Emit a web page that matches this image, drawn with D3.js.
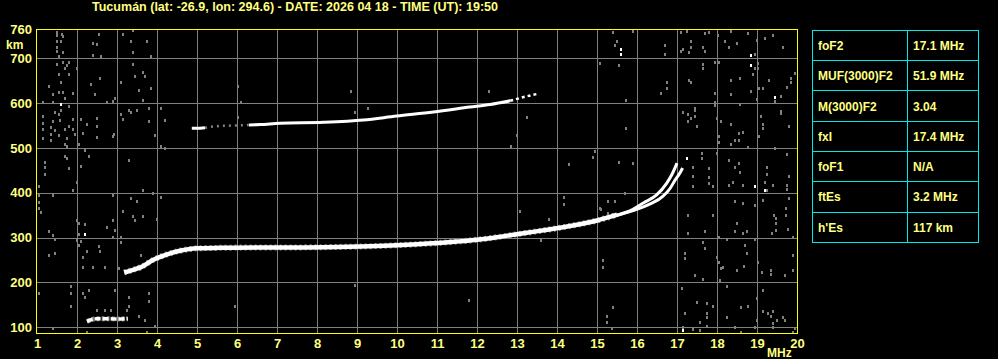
<!DOCTYPE html>
<html>
<head>
<meta charset="utf-8">
<script src="https://cdn.jsdelivr.net/npm/d3@7"></script>
<style>
body { margin: 0; background: #000; }
svg { display: block; }
text { font-family: "Liberation Sans", Arial, sans-serif; font-weight: bold; fill: #ffff80; }
</style>
</head>
<body>
<svg width="998" height="359"></svg>
<script>
var title = "Tucumán (lat: -26.9, lon: 294.6) - DATE: 2026 04 18 - TIME (UT): 19:50";

var freqTicks = [1, 2, 3, 4, 5, 6, 7, 8, 9, 10, 11, 12, 13, 14, 15, 16, 17, 18, 19, 20];
var heightTicks = [100, 200, 300, 400, 500, 600, 700, 760];
var gridHeights = [100, 200, 300, 400, 500, 600, 700];

// F2 trace (MHz, km)
var traceF = [[3.18, 222], [3.4, 228], [3.6, 234], [3.9, 250], [4.2, 261], [4.6, 271], [5.0, 276], [5.6, 277],
    [6.5, 278], [7.5, 278], [8.5, 279], [9.5, 281], [10.5, 285], [11.5, 291], [12.0, 295], [12.6, 302],
    [13.2, 310], [13.8, 318], [14.4, 327], [15.0, 338], [15.5, 351]];
var traceO = [[15.4, 348], [15.9, 363], [16.16, 377], [16.49, 395], [16.74, 421], [16.87, 440], [17.0, 466]];
var traceX = [[15.4, 347], [15.9, 360], [16.33, 375], [16.66, 393], [16.83, 410], [16.93, 425], [17.08, 445], [17.14, 455]];
// Es trace
var traceEs = [[2.25, 113], [2.5, 119], [2.8, 119], [3.0, 118], [3.27, 119]];
// second hop
var hop2A = [[4.87, 544], [5.08, 544], [5.2, 545]];
var hop2Dots = [[5.2, 545], [5.58, 549], [6.0, 550], [6.3, 551]];
var hop2B = [[6.3, 551], [6.58, 552], [7.08, 555], [8.16, 557], [9.16, 562], [9.99, 571], [10.91, 580],
    [11.82, 591], [12.33, 597], [12.83, 605]];
var hop2Tail = [[12.83, 605], [13.24, 615], [13.49, 620]];

var noiseGray = [
    [1.5, 759], [1.5, 752], [1.63, 754], [1.64, 750], [1.6, 739], [1.5, 739], [1.5, 726], [1.5, 717], [1.64, 715], [1.56, 704],
    [2.54, 754], [2.39, 735], [2.5, 732], [2.39, 707], [2.6, 704], [3.14, 754], [3.39, 762], [3.35, 739], [3.39, 713], [3.75, 739], [3.85, 704],
    [1.5, 687], [1.64, 691], [1.74, 684], [1.79, 692], [1.71, 678], [1.99, 678], [1.54, 665], [1.79, 665], [1.6, 648], [1.29, 638],
    [1.39, 620], [1.54, 625], [1.64, 625], [1.89, 623], [1.7, 611],
    [2.58, 657], [2.35, 643], [2.44, 620], [3.39, 687], [3.45, 661], [3.64, 670], [3.7, 661], [3.1, 648], [3.54, 629], [3.85, 634],
    [2.95, 611], [2.89, 605], [2.74, 603], [3.64, 607],
    [1.16, 603], [1.39, 603], [1.79, 594], [1.45, 581], [1.6, 585], [1.54, 576], [1.14, 571], [1.14, 555], [1.39, 561], [1.58, 562],
    [1.89, 564], [1.14, 542], [1.35, 547], [1.7, 542], [1.79, 549], [1.89, 542], [1.45, 540], [1.54, 529], [1.35, 531], [1.74, 523],
    [1.95, 531], [1.14, 523], [1.35, 518], [1.7, 509], [1.74, 504], [2.04, 509],
    [2.1, 564], [2.14, 534], [2.24, 553], [2.49, 566], [2.49, 549], [2.49, 525], [2.2, 495], [2.29, 482], [1.7, 482], [1.74, 478],
    [1.2, 469], [1.2, 458], [1.2, 442], [1.79, 456], [2.1, 460],
    [2.93, 531], [2.89, 527], [3.1, 576], [3.14, 564], [3.31, 585], [3.35, 581], [3.49, 585], [3.79, 589], [4.1, 589], [3.79, 559],
    [3.95, 529], [4.2, 562], [4.1, 504], [4.2, 500], [3.31, 473],
    [1.04, 414], [1.04, 395], [1.04, 380], [1.04, 365], [1.09, 358], [1.39, 395], [1.89, 405], [1.99, 423], [2.89, 395], [3.35, 388],
    [3.49, 382], [3.64, 405], [3.89, 399], [4.1, 390],
    [3.14, 360], [3.39, 348], [3.45, 338], [3.64, 347], [3.99, 342], [2.89, 338], [1.99, 338], [2.04, 332], [2.2, 330], [2.74, 324],
    [2.95, 317], [1.29, 315], [1.39, 306], [2.04, 308], [2.89, 302], [3.1, 301],
    [1.44, 296], [1.99, 295], [2.1, 293], [2.04, 284], [3.1, 289], [2.54, 280], [2.24, 271], [2.58, 269], [1.29, 261], [1.44, 266],
    [2.14, 256], [2.14, 235], [2.39, 234], [2.69, 235], [3.04, 232], [3.6, 261],
    [1.85, 191], [1.85, 177], [1.04, 177], [2.14, 177], [2.29, 182], [2.2, 168], [2.95, 182], [3.29, 168], [3.79, 177], [3.79, 159],
    [1.85, 147], [2.49, 139], [2.69, 139], [2.84, 139], [3.24, 139], [3.29, 147], [3.54, 125], [3.7, 116], [3.95, 103], [1.39, 98],
    [2.24, 90], [3.74, 90], [5.94, 147],
    [6.03, 637], [6.1, 603], [8.84, 626], [9.28, 590], [8.95, 580], [12.29, 626], [13.24, 568], [12.99, 529], [6.03, 568], [8.94, 194],
    [12.84, 505], [14.95, 492], [14.89, 479], [14.3, 464], [14.17, 391], [14.17, 374], [15.1, 364], [13.07, 360], [13.8, 341],
    [15.28, 354], [13.61, 295], [11.8, 161],
    [15.41, 759], [15.45, 730], [15.49, 739], [15.89, 761], [15.55, 684], [15.08, 689], [15.72, 607], [15.72, 545], [15.55, 469], [15.89, 467],
    [16.7, 730], [16.7, 709], [16.74, 646], [16.74, 634], [16.59, 622],
    [17.1, 759], [17.24, 761], [17.14, 721], [17.1, 716], [17.31, 713], [17.34, 739], [17.34, 726], [17.66, 726], [17.7, 717], [17.7, 757],
    [17.8, 759], [18.03, 752], [18.2, 739], [18.31, 726], [18.49, 735], [18.34, 761], [18.78, 757], [18.99, 741], [19.2, 745], [19.39, 752],
    [19.64, 726], [18.95, 709],
    [19.03, 689], [19.03, 678], [18.95, 679], [18.89, 664], [17.95, 692], [18.05, 692], [17.64, 687], [17.64, 679], [17.31, 652], [17.34, 648],
    [17.95, 623], [17.95, 603], [17.95, 596], [18.34, 652], [18.34, 620], [18.58, 657], [18.85, 626], [19.06, 634], [19.16, 634], [19.31, 652],
    [19.45, 605], [19.6, 616], [19.74, 635], [19.85, 655], [19.85, 647], [19.95, 667], [18.99, 609], [18.58, 598],
    [17.45, 590], [17.45, 585], [17.14, 581], [17.28, 576], [17.46, 571], [17.34, 566], [17.28, 559], [17.49, 549], [17.99, 566], [18.09, 559],
    [18.34, 553], [18.55, 533], [18.64, 536], [18.45, 518], [18.55, 518], [18.05, 527], [18.05, 514], [18.34, 509], [19.1, 571], [19.16, 553],
    [19.16, 544], [19.06, 527], [19.6, 582], [19.6, 577], [19.81, 549], [19.45, 499], [19.74, 487], [18.78, 503],
    [17.63, 489], [17.63, 478], [18.3, 473], [18.45, 457], [18.55, 466], [18.58, 447], [17.99, 488], [17.8, 455], [17.8, 436], [17.39, 457],
    [17.39, 438], [19.24, 457], [19.24, 442], [19.8, 438],
    [17.39, 414], [17.8, 421], [17.91, 414], [18.3, 417], [18.39, 423], [18.64, 417], [19.2, 423], [19.24, 405], [19.39, 417], [19.74, 417],
    [19.74, 408], [15.7, 399], [15.28, 382], [15.45, 382], [15.08, 365],
    [17.28, 350], [17.28, 311], [17.89, 350], [17.7, 315], [18.45, 382], [18.64, 378], [18.95, 373], [18.49, 333], [18.45, 315], [18.64, 311],
    [18.74, 315], [19.15, 384], [19.42, 350], [19.48, 343], [19.48, 333], [19.48, 317], [19.73, 365], [19.81, 388], [19.73, 350], [19.37, 311],
    [19.78, 319], [19.91, 302],
    [18.05, 302], [18.24, 296], [17.64, 289], [17.7, 276], [18.7, 284], [18.95, 296], [17.2, 265], [17.2, 254], [17.99, 256], [18.05, 246],
    [18.09, 232], [18.14, 234], [18.49, 228], [18.74, 265], [18.68, 237], [19.03, 246], [19.12, 222], [19.34, 228], [19.34, 219], [19.7, 217],
    [19.89, 228], [19.89, 261],
    [17.45, 217], [17.64, 207], [18.08, 206], [18.24, 191], [17.13, 187], [15.14, 249], [15.14, 234], [15.39, 145], [15.24, 125], [15.24, 112],
    [15.38, 98],
    [17.49, 157], [17.74, 154], [17.91, 148], [17.74, 131], [17.74, 122], [17.2, 131], [17.58, 112], [18.24, 122], [18.59, 146], [18.78, 147],
    [19.14, 182], [18.99, 165], [19.14, 137], [19.28, 131], [19.39, 135], [19.34, 124], [19.49, 116], [19.64, 122], [19.7, 116], [19.39, 109],
    [18.99, 116], [17.74, 103], [17.39, 96], [17.14, 101], [17.58, 94], [18.45, 101], [18.95, 101], [19.41, 101], [19.95, 98], [19.91, 90],
    [18.6, 90]
];
var noiseWhite = [[1.6, 598], [2.2, 307], [15.6, 721], [15.6, 710], [18.85, 708], [18.85, 684], [19.45, 614],
    [17.24, 477], [18.95, 414], [19.2, 406], [17.14, 94]];

var paramNames = ["foF2", "MUF(3000)F2", "M(3000)F2", "fxI", "foF1", "ftEs", "h'Es"];
var paramValues = ["17.1 MHz", "51.9 MHz", "3.04", "17.4 MHz", "N/A", "3.2 MHz", "117 km"];

var svg = d3.select("svg");

var x = d3.scaleLinear().domain([1, 20]).range([37, 797]);
var y = d3.scaleLinear().domain([87, 763]).range([333, 30]);

// title
svg.append("text")
    .attr("x", 92).attr("y", 10.5)
    .attr("font-size", 12)
    .attr("textLength", 406).attr("lengthAdjust", "spacingAndGlyphs")
    .text(title);

// grid
var grid = svg.append("g").attr("shape-rendering", "crispEdges")
    .attr("stroke", "#808080").attr("stroke-width", 1);

grid.selectAll(".vgrid")
    .data(freqTicks.slice(1, -1))
    .enter().append("line")
    .attr("class", "vgrid")
    .attr("x1", d => x(d) + 0.5).attr("x2", d => x(d) + 0.5)
    .attr("y1", y.range()[1]).attr("y2", y.range()[0]);

grid.selectAll(".hgrid")
    .data(gridHeights)
    .enter().append("line")
    .attr("class", "hgrid")
    .attr("x1", x(1)).attr("x2", x(20))
    .attr("y1", d => Math.round(y(d)) + 0.5).attr("y2", d => Math.round(y(d)) + 0.5);

// noise
svg.append("g").attr("shape-rendering", "crispEdges")
    .selectAll("rect")
    .data(noiseGray)
    .enter().append("rect")
    .attr("x", d => Math.round(x(d[0])) - 1)
    .attr("y", d => Math.round(y(d[1])) - 1)
    .attr("width", 2).attr("height", 3)
    .attr("fill", "#808080");

svg.append("g").attr("shape-rendering", "crispEdges")
    .selectAll("rect")
    .data(noiseWhite)
    .enter().append("rect")
    .attr("x", d => Math.round(x(d[0])) - 1)
    .attr("y", d => Math.round(y(d[1])) - 1)
    .attr("width", 2).attr("height", 3)
    .attr("fill", "#ffffff");

// traces
var line = d3.line()
    .x(d => x(d[0]))
    .y(d => y(d[1]))
    .curve(d3.curveMonotoneX);

function trace(data, width, color, dash) {
    svg.append("path")
        .datum(data)
        .attr("d", line)
        .attr("fill", "none")
        .attr("stroke", color)
        .attr("stroke-width", width)
        .attr("stroke-dasharray", dash || null);
}

trace(traceF, 6, "#808080", "2,3");
trace(traceF, 4.5, "#ffffff");
trace(traceO, 3, "#ffffff");
trace(traceX, 3, "#ffffff");
trace(traceEs, 5, "#808080", "3,2");
trace(traceEs, 3.5, "#ffffff", "6,2");
trace(hop2A, 3, "#ffffff");
trace(hop2Dots, 2.5, "#808080", "2,4");
trace(hop2B, 3, "#ffffff");
trace(hop2Tail, 2.5, "#ffffff", "3,3");

// frame
svg.append("rect")
    .attr("x", x(1) - 0.5).attr("y", y(763) - 0.5)
    .attr("width", x(20) - x(1) + 1).attr("height", y(87) - y(763) + 1)
    .attr("fill", "none")
    .attr("stroke", "#ffff00")
    .attr("stroke-width", 1)
    .attr("shape-rendering", "crispEdges");

// axes
var xAxis = svg.append("g")
    .attr("transform", "translate(0," + y(87) + ")")
    .call(d3.axisBottom(x).tickValues(freqTicks).tickFormat(d3.format("d")).tickSize(0).tickPadding(6));
xAxis.select(".domain").remove();
xAxis.selectAll("text").attr("font-size", 13).attr("font-family", null).attr("fill", null);

var yAxis = svg.append("g")
    .attr("transform", "translate(" + (x(1) - 1) + ",0)")
    .call(d3.axisLeft(y).tickValues(heightTicks).tickFormat(d3.format("d")).tickSize(0).tickPadding(4));
yAxis.select(".domain").remove();
yAxis.selectAll("text").attr("font-size", 13).attr("font-family", null).attr("fill", null);
yAxis.selectAll("text").filter(d => d === 760).attr("dy", "0.2em");

svg.append("text")
    .attr("x", 6).attr("y", 49)
    .attr("font-size", 12)
    .text("km");

svg.append("text")
    .attr("x", x(19) + 10).attr("y", 357)
    .attr("font-size", 12)
    .text("MHz");

// parameter table
var tx0 = 812, tx1 = 907, tx2 = 977.5, ty0 = 30.3, rowH = 30.3;
var table = svg.append("g").attr("shape-rendering", "crispEdges");

table.append("rect")
    .attr("x", tx0 + 0.5).attr("y", ty0)
    .attr("width", tx2 - tx0).attr("height", rowH * paramNames.length)
    .attr("fill", "none").attr("stroke", "#00e8e8");

table.append("line")
    .attr("x1", tx1 + 0.5).attr("x2", tx1 + 0.5)
    .attr("y1", ty0).attr("y2", ty0 + rowH * paramNames.length)
    .attr("stroke", "#00e8e8");

table.selectAll(".rowline")
    .data(paramNames.slice(1))
    .enter().append("line")
    .attr("class", "rowline")
    .attr("x1", tx0).attr("x2", tx2)
    .attr("y1", (d, i) => ty0 + rowH * (i + 1)).attr("y2", (d, i) => ty0 + rowH * (i + 1))
    .attr("stroke", "#00e8e8");

table.selectAll(".pname")
    .data(paramNames)
    .enter().append("text")
    .attr("class", "pname")
    .attr("x", tx0 + 6)
    .attr("y", (d, i) => ty0 + rowH * i + rowH / 2 + 4.5)
    .attr("font-size", 12)
    .text(d => d);

table.selectAll(".pval")
    .data(paramValues)
    .enter().append("text")
    .attr("class", "pval")
    .attr("x", tx1 + 6)
    .attr("y", (d, i) => ty0 + rowH * i + rowH / 2 + 4.5)
    .attr("font-size", 12)
    .text(d => d);
</script>
</body>
</html>
